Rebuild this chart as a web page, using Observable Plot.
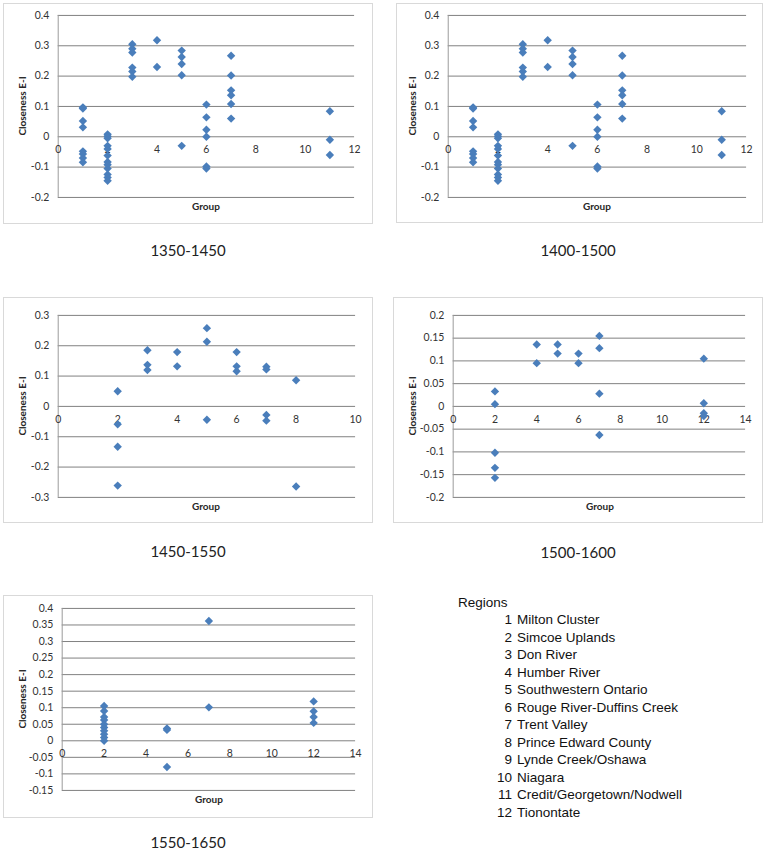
<!DOCTYPE html>
<html>
<head>
<meta charset="utf-8">
<script src="https://cdn.jsdelivr.net/npm/d3@7"></script>
<script src="https://cdn.jsdelivr.net/npm/@observablehq/plot@0.6"></script>
<style>
  body { margin: 0; background: #fff; }
  #root { position: relative; width: 766px; height: 854px; font-family: Lato, "Open Sans", sans-serif; }
  .panel { position: absolute; border: 1px solid #d9d9d9; box-sizing: border-box; background: #fff; }
  .panel svg { position: absolute; left: 0; top: 0; }
  .ytitle { position: absolute; font-weight: bold; font-size: 10px; color: #262626; transform: translate(-50%, -50%) rotate(-90deg); white-space: nowrap; }
  .xtitle { position: absolute; font-weight: bold; font-size: 10px; color: #262626; transform: translate(-50%, -50%); white-space: nowrap; }
  .caption { position: absolute; font-size: 15px; color: #222; transform: translate(-50%, -50%); white-space: nowrap; }
  .legend { position: absolute; font-family: "Liberation Sans", Arial, sans-serif; font-size: 13.5px; color: #111; }
  .legrow { position: absolute; white-space: nowrap; transform: translateY(-50%); }
  .legnum { position: absolute; text-align: right; width: 30px; }
</style>
</head>
<body>
<div id="root"></div>
<script>
// ---- Data ----
const periods = ["1350-1450", "1400-1500", "1450-1550", "1500-1600", "1550-1650"];

// 1350-1450
const p1Group = [1,1,1,1,1,1,1,1, 2,2,2,2,2,2,2,2,2,2,2,2, 3,3,3,3,3,3, 4,4, 5,5,5,5,5, 6,6,6,6,6,6, 7,7,7,7,7,7, 11,11,11];
const p1Value = [0.097,0.093,0.052,0.031,-0.048,-0.057,-0.07,-0.084,
  0.008,0.002,-0.005,-0.03,-0.04,-0.062,-0.083,-0.092,-0.105,-0.124,-0.134,-0.145,
  0.305,0.29,0.278,0.228,0.215,0.198,
  0.318,0.23,
  0.284,0.263,0.24,0.203,-0.03,
  0.106,0.064,0.023,0.0,-0.098,-0.105,
  0.267,0.202,0.153,0.137,0.108,0.06,
  0.084,-0.01,-0.06];

// 1400-1500
const p2Group = [1,1,1,1,1,1,1,1, 2,2,2,2,2,2,2,2,2,2,2,2, 3,3,3,3,3,3, 4,4, 5,5,5,5,5, 6,6,6,6,6,6, 7,7,7,7,7,7, 11,11,11];
const p2Value = [0.097,0.093,0.052,0.031,-0.048,-0.057,-0.07,-0.084,
  0.008,0.002,-0.005,-0.03,-0.04,-0.062,-0.083,-0.092,-0.105,-0.124,-0.134,-0.145,
  0.305,0.29,0.278,0.228,0.215,0.198,
  0.318,0.23,
  0.284,0.263,0.24,0.203,-0.03,
  0.106,0.064,0.023,0.0,-0.098,-0.105,
  0.267,0.202,0.153,0.137,0.108,0.06,
  0.084,-0.01,-0.06];

// 1450-1550
const p3Group = [2,2,2,2, 3,3,3, 4,4, 5,5,5, 6,6,6, 7,7,7,7, 8,8];
const p3Value = [0.05,-0.059,-0.133,-0.261,
  0.185,0.137,0.12,
  0.179,0.132,
  0.258,0.213,-0.044,
  0.179,0.132,0.116,
  0.131,0.122,-0.028,-0.047,
  0.086,-0.264];

// 1500-1600
const p4Group = [2,2,2,2,2, 4,4, 5,5, 6,6, 7,7,7,7, 12,12,12,12];
const p4Value = [0.033,0.005,-0.102,-0.135,-0.157,
  0.136,0.095,
  0.136,0.116,
  0.116,0.095,
  0.155,0.128,0.028,-0.063,
  0.105,0.007,-0.015,-0.021];

// 1550-1650
const p5Group = [2,2,2,2,2,2,2,2,2,2, 5,5,5, 7,7, 12,12,12,12];
const p5Value = [0.105,0.09,0.072,0.063,0.05,0.04,0.03,0.02,0.01,0.0,
  0.037,0.033,-0.079,
  0.362,0.101,
  0.119,0.089,0.072,0.054];

// tick labels
const xTicks12 = [0,2,4,6,8,10,12];
const xTicks10 = [0,2,4,6,8,10];
const xTicks14 = [0,2,4,6,8,10,12,14];
const yTicksA = [0.4,0.3,0.2,0.1,0,-0.1,-0.2];
const yTicksB = [0.3,0.2,0.1,0,-0.1,-0.2,-0.3];
const yTicksC = [0.2,0.15,0.1,0.05,0,-0.05,-0.1,-0.15,-0.2];
const yTicksD = [0.4,0.35,0.3,0.25,0.2,0.15,0.1,0.05,0,-0.05,-0.1,-0.15];

const regionNums = [1,2,3,4,5,6,7,8,9,10,11,12];
const regionNames = ["Milton Cluster","Simcoe Uplands","Don River","Humber River","Southwestern Ontario",
  "Rouge River-Duffins Creek","Trent Valley","Prince Edward County","Lynde Creek/Oshawa","Niagara",
  "Credit/Georgetown/Nodwell","Tionontate"];

// ---- Layout ----
const panels = [
  {g:p1Group, v:p1Value, xt:xTicks12, yt:yTicksA, left:3, top:3, w:370, h:221, ml:54, mr:18, mt:11, mb:27, ytx:22, xtx:206, xty:206, cx:188, cy:250},
  {g:p2Group, v:p2Value, xt:xTicks12, yt:yTicksA, left:396, top:3, w:367, h:220, ml:51, mr:16, mt:11, mb:26, ytx:412, xtx:597, xty:206, cx:578, cy:250},
  {g:p3Group, v:p3Value, xt:xTicks10, yt:yTicksB, left:3, top:297, w:370, h:226, ml:54, mr:17, mt:17, mb:26, ytx:22, xtx:206, xty:506, cx:188, cy:551},
  {g:p4Group, v:p4Value, xt:xTicks14, yt:yTicksC, left:393, top:297, w:370, h:226, ml:59, mr:17, mt:17, mb:26, ytx:412, xtx:600, xty:506, cx:578, cy:552},
  {g:p5Group, v:p5Value, xt:xTicks14, yt:yTicksD, left:3, top:595, w:370, h:223, ml:58, mr:17, mt:12, mb:28, ytx:22, xtx:209, xty:799, cx:188, cy:842}
];

const root = document.getElementById("root");
const blue = "#4a7ebb";

panels.forEach((p, i) => {
  const rows = p.g.map((g, k) => ({group: g, value: p.v[k]}));
  const xmax = p.xt[p.xt.length - 1];
  const div = document.createElement("div");
  div.className = "panel";
  Object.assign(div.style, {left: p.left + "px", top: p.top + "px", width: p.w + "px", height: p.h + "px"});
  const chart = Plot.plot({
    width: p.w, height: p.h,
    marginLeft: p.ml, marginRight: p.mr, marginTop: p.mt, marginBottom: p.mb,
    style: {fontFamily: "Lato, 'Open Sans', sans-serif", fontSize: "10.5px", color: "#333", background: "transparent"},
    x: {domain: [0, xmax], axis: null},
    y: {domain: [p.yt[p.yt.length - 1], p.yt[0]], axis: null},
    marks: [
      Plot.gridY(p.yt, {stroke: "#808080", strokeOpacity: 1}),
      Plot.ruleX([0], {stroke: "#9a9a9a"}),
      Plot.axisY(p.yt, {tickSize: 0, tickPadding: 9, tickFormat: d => String(d), label: null, fill: "#333"}),
      Plot.text(p.xt, {x: d => d, y: 0, dy: 13, text: d => String(d), fill: "#333"}),
      Plot.dot(rows, {x: "group", y: "value", symbol: "diamond2", r: 3.8, fill: blue, stroke: "none"})
    ]
  });
  div.appendChild(chart);
  root.appendChild(div);

  const yt = document.createElement("div");
  yt.className = "ytitle";
  yt.textContent = "Closeness E-I";
  yt.style.left = p.ytx + "px";
  yt.style.top = (p.top + p.mt + (p.h - p.mt - p.mb) / 2) + "px";
  root.appendChild(yt);

  const xt = document.createElement("div");
  xt.className = "xtitle";
  xt.textContent = "Group";
  xt.style.left = p.xtx + "px";
  xt.style.top = p.xty + "px";
  root.appendChild(xt);

  const cap = document.createElement("div");
  cap.className = "caption";
  cap.textContent = periods[i];
  cap.style.left = p.cx + "px";
  cap.style.top = p.cy + "px";
  root.appendChild(cap);
});

// Legend
const leg = document.createElement("div");
leg.className = "legend";
Object.assign(leg.style, {left: "0px", top: "0px"});
const title = document.createElement("div");
title.className = "legrow";
title.textContent = "Regions";
title.style.left = "458px";
title.style.top = "602px";
leg.appendChild(title);
regionNums.forEach((n, k) => {
  const row = document.createElement("div");
  row.className = "legrow";
  row.style.left = "482px";
  row.style.top = (619.3 + k * 17.5) + "px";
  const num = document.createElement("span");
  num.className = "legnum";
  num.textContent = n;
  num.style.left = "0px";
  const name = document.createElement("span");
  name.textContent = regionNames[k];
  name.style.marginLeft = "35px";
  row.appendChild(num);
  row.appendChild(name);
  leg.appendChild(row);
});
root.appendChild(leg);
</script>
</body>
</html>
